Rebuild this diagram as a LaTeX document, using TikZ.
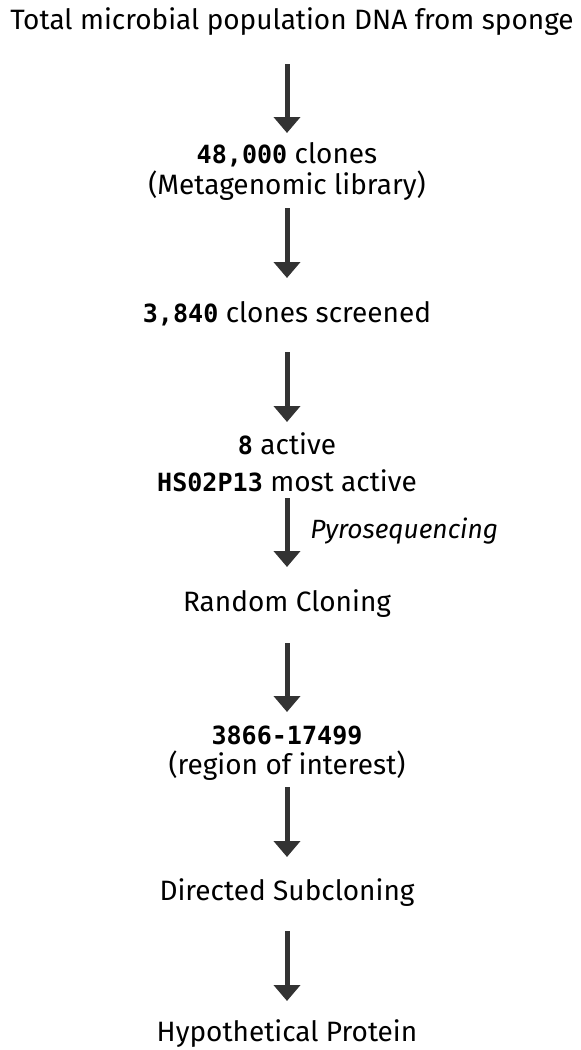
\documentclass[tikz,border=0pt]{standalone}
\usepackage{fontspec}
\setmainfont{Fira Sans}
\newfontfamily\numfont{DejaVu Sans Mono}
\usetikzlibrary{arrows.meta}
\definecolor{arrowgray}{RGB}{51,51,51}
\newcommand{\num}[1]{{\numfont\bfseries\fontsize{18.8}{22}\selectfont #1}}

\begin{document}
\begin{tikzpicture}[x=0.75pt,y=0.75pt,yscale=-1,xscale=1,
  lbl/.style={inner sep=0pt,font=\fontsize{21}{25}\selectfont},
  flow/.style={draw=arrowgray,line width=3.75pt,-{Triangle[width=19.5pt,length=12pt]}}]
\useasboundingbox (0,0) rectangle (581,1050);

% Text Node
\node[lbl] (dna) at (292,22) {Total microbial population DNA from sponge};
% Text Node
\node[lbl] (lib) at (287,155) {\num{48,000} clones};
% Text Node
\node[lbl] (libnote) at (287,186) {(Metagenomic library)};
% Text Node
\node[lbl] (screened) at (287,314) {\num{3,840} clones screened};
% Text Node
\node[lbl] (active) at (287,444) {\num{8} active};
% Text Node
\node[lbl] (best) at (287,481) {\num{HS02P13} most active};
% Text Node
\node[lbl,anchor=west,font=\fontsize{19.8}{24}\selectfont\itshape] (pyro) at (310,531) {Pyrosequencing};
% Text Node
\node[lbl] (random) at (287,604) {Random Cloning};
% Text Node
\node[lbl] (region) at (287,735) {\num{3866-17499}};
% Text Node
\node[lbl] (regionnote) at (287,766) {(region of interest)};
% Text Node
\node[lbl] (directed) at (287,893) {Directed Subcloning};
% Text Node
\node[lbl] (protein) at (287,1034) {Hypothetical Protein};

%Straight Lines
\draw[flow,shorten <=42*0.75pt,shorten >=22*0.75pt] (dna.center-|lib.center) -- (lib.center);
\draw[flow,shorten <=22*0.75pt,shorten >=36*0.75pt] (libnote.center) -- (screened.center);
\draw[flow,shorten <=38*0.75pt,shorten >=22*0.75pt] (screened.center) -- (active.center);
\draw[flow,shorten <=17*0.75pt,shorten >=37*0.75pt] (best.center-|active.center) -- (random.center);
\draw[flow,shorten <=39*0.75pt,shorten >=23*0.75pt] (random.center) -- (region.center);
\draw[flow,shorten <=21*0.75pt,shorten >=36*0.75pt] (regionnote.center) -- (directed.center);
\draw[flow,shorten <=38*0.75pt,shorten >=33*0.75pt] (directed.center) -- (protein.center);

\end{tikzpicture}
\end{document}
